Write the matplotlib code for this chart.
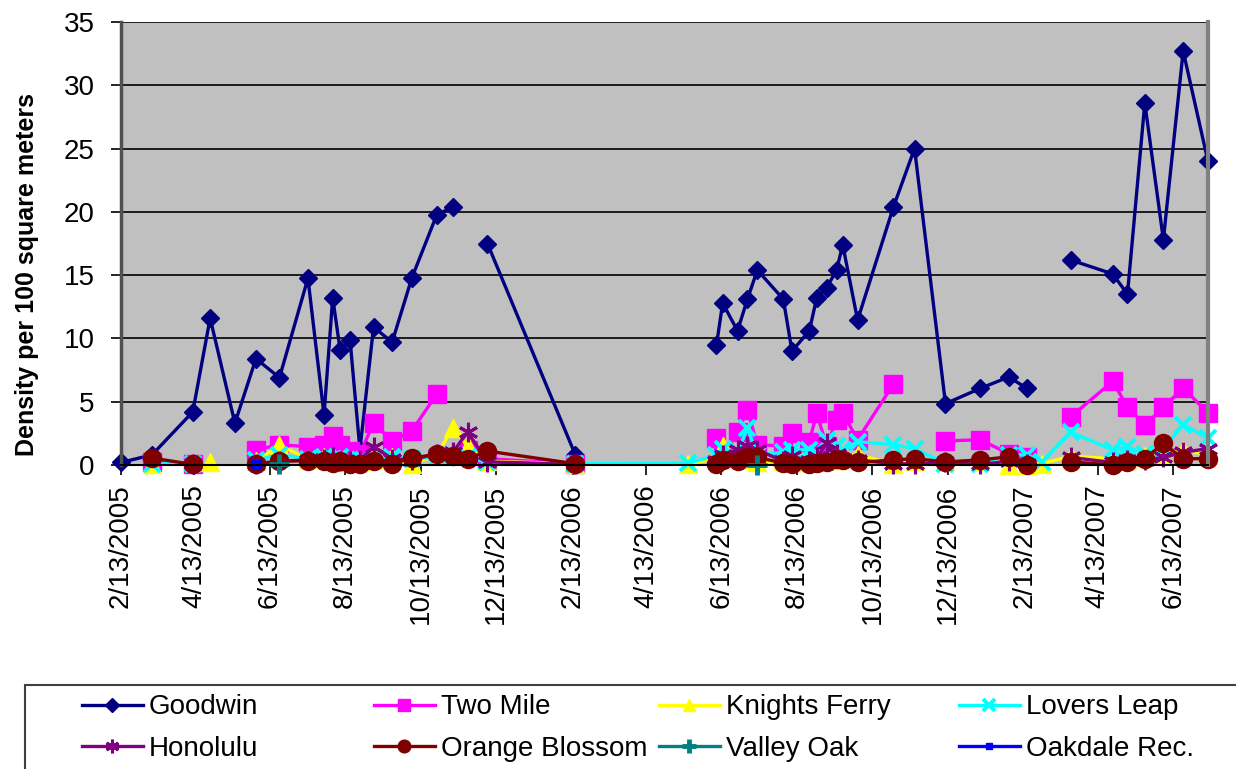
import numpy as np
import matplotlib
matplotlib.use("Agg")
import matplotlib.pyplot as plt
import matplotlib.dates as mdates
from matplotlib.patches import Rectangle

plt.rcParams['font.family'] = ['Liberation Sans', 'DejaVu Sans']

nan = np.nan

# sampling dates (shared by all sites, missing values = nan)
dates = [
    "2005-02-13", "2005-03-10", "2005-04-12", "2005-04-26", "2005-05-16",
    "2005-06-02", "2005-06-21", "2005-07-14", "2005-07-27", "2005-08-03",
    "2005-08-09", "2005-08-17", "2005-08-25", "2005-09-05", "2005-09-20",
    "2005-10-06", "2005-10-26", "2005-11-08", "2005-11-20", "2005-12-06",
    "2006-02-15", "2006-05-17", "2006-06-09", "2006-06-14", "2006-06-26",
    "2006-07-04", "2006-07-12", "2006-08-02", "2006-08-09", "2006-08-23",
    "2006-08-29", "2006-09-06", "2006-09-14", "2006-09-19", "2006-10-01",
    "2006-10-30", "2006-11-16", "2006-12-11",
    "2007-01-08", "2007-01-31", "2007-02-15", "2007-02-27", "2007-03-22",
    "2007-04-25", "2007-05-07", "2007-05-21", "2007-06-05", "2007-06-21",
    "2007-07-11",
]

goodwin = [0.2, 0.8, 4.2, 11.6, 3.3, 8.4, 6.9, 14.75, 3.95, 13.2,
           9.1, 9.9, 1.2, 10.9, 9.7, 14.8, 19.75, 20.4, nan, 17.5,
           0.8, nan, 9.45, 12.8, 10.6, 13.1, 15.4, 13.1, 9.0, 10.6,
           13.2, 14.0, 15.4, 17.4, 11.45, 20.4, 25.0, 4.85,
           6.05, 6.95, 6.05, nan, 16.2, 15.1, 13.5, 28.6, 17.8, 32.7, 24.0]

two_mile = [nan, 0.2, 0.1, nan, nan, 1.2, 1.6, 1.45, 1.6, 2.3,
            1.6, 1.1, 0.9, 3.3, 1.9, 2.7, 5.6, nan, 1.2, 0.5,
            0.1, nan, 2.1, 1.0, 2.6, 4.35, 1.6, 1.5, 2.5, 1.85,
            4.1, 1.5, 3.55, 4.1, 2.0, 6.4, nan, 1.9,
            2.0, 0.9, 0.65, nan, 3.8, 6.6, 4.6, 3.15, 4.55, 6.1, 4.1]

knights_ferry = [nan, 0.1, nan, 0.25, nan, 0.3, 1.55, 0.5, 0.6, 0.4,
                 0.3, 0.2, 0.3, 0.5, 0.6, 0.05, 0.8, 2.9, 1.5, 0.3,
                 0.1, 0.1, 0.5, 1.5, 0.8, 0.5, 0.2, 0.3, 0.3, 0.2,
                 0.3, 0.5, 0.4, 0.8, 0.8, 0.1, 0.3, 0.3,
                 0.3, 0.0, 0.0, 0.1, 0.7, 0.5, 0.4, 0.7, 0.8, 1.2, 0.8]

lovers_leap = [nan, 0.1, 0.1, nan, nan, 0.4, 0.8, 0.5, 0.6, 0.5,
               0.6, 0.4, 0.4, 0.5, 0.6, 0.5, 0.6, 0.8, 0.6, 0.2,
               0.1, 0.13, 0.8, 1.3, 1.0, 2.9, 0.8, 1.0, 1.2, 1.2,
               0.9, 2.0, 1.5, 1.2, 1.85, 1.6, 1.3, 0.1,
               0.1, 0.8, 0.8, 0.26, 2.6, 1.2, 1.4, 0.9, 1.3, 3.2, 2.1]

honolulu = [nan, nan, 0.1, nan, nan, 0.1, 0.3, 0.4, 0.5, 0.6,
            0.3, 0.3, 0.4, 1.45, 0.5, 0.4, 0.9, 1.0, 2.6, 0.25,
            0.05, nan, 0.3, 0.8, 1.2, 1.5, 1.2, 0.3, 0.7, 0.3,
            0.6, 1.7, 0.9, 0.5, 0.4, 0.1, 0.1, 0.2,
            0.05, 0.3, 0.1, nan, 0.6, 0.2, 0.4, 0.4, 0.6, 1.0, 1.3]

orange_blossom = [nan, 0.55, 0.05, nan, nan, 0.05, 0.3, 0.35, 0.3, 0.15,
                  0.3, 0.05, 0.1, 0.3, 0.1, 0.55, 0.85, 0.75, 0.5, 1.1,
                  0.1, nan, 0.1, 0.4, 0.3, 0.6, 0.6, 0.15, 0.1, 0.1,
                  0.15, 0.2, 0.45, 0.4, 0.2, 0.4, 0.5, 0.25,
                  0.4, 0.65, 0.0, nan, 0.25, 0.0, 0.25, 0.5, 1.7, 0.5, 0.5]

valley_oak = [nan, nan, nan, nan, nan, nan, 0.05, nan, nan, nan,
              nan, nan, nan, nan, nan, nan, nan, nan, nan, nan,
              nan, nan, nan, nan, nan, nan, 0.0, nan, nan, nan,
              nan, nan, nan, nan, nan, nan, nan, nan,
              nan, nan, nan, nan, nan, nan, nan, nan, nan, nan, nan]

oakdale_rec = [nan, nan, nan, nan, nan, 0.1, nan, nan, nan, nan,
               nan, nan, nan, nan, nan, nan, nan, nan, nan, nan,
               nan, nan, nan, nan, nan, nan, nan, nan, nan, nan,
               nan, nan, nan, nan, nan, nan, nan, nan,
               nan, nan, nan, nan, nan, nan, nan, nan, nan, nan, nan]

tick_dates = ["2005-02-13", "2005-04-13", "2005-06-13", "2005-08-13", "2005-10-13",
              "2005-12-13", "2006-02-13", "2006-04-13", "2006-06-13", "2006-08-13",
              "2006-10-13", "2006-12-13", "2007-02-13", "2007-04-13", "2007-06-13"]
tick_labels = ["2/13/2005", "4/13/2005", "6/13/2005", "8/13/2005", "10/13/2005",
               "12/13/2005", "2/13/2006", "4/13/2006", "6/13/2006", "8/13/2006",
               "10/13/2006", "12/13/2006", "2/13/2007", "4/13/2007", "6/13/2007"]

x = mdates.datestr2num(dates)

fig = plt.figure(figsize=(12.36, 7.69), dpi=100)
ax = fig.add_axes([0.0979, 0.3953, 0.8794, 0.5761])
ax.set_facecolor('#C0C0C0')

# name, values, color, marker, size, edge width, filled
styles = [
    ("Goodwin", goodwin, '#000080', 'D', 9.5, 1, True),
    ("Two Mile", two_mile, '#FF00FF', 's', 12.5, 1, True),
    ("Knights Ferry", knights_ferry, '#FFFF00', '^', 13, 1, True),
    ("Lovers Leap", lovers_leap, '#00FFFF', 'x', 12, 2.8, False),
    ("Honolulu", honolulu, '#800080', (6, 2, 0), 14, 2.2, False),
    ("Orange Blossom", orange_blossom, '#800000', 'o', 13, 1, True),
    ("Valley Oak", valley_oak, '#008080', '+', 15, 3.5, False),
    ("Oakdale Rec.", oakdale_rec, '#0000FF', 's', 7, 1, True),
]

handles = {}
for name, vals, col, mk, ms, mew, filled in styles:
    ln, = ax.plot(x, vals, color=col, lw=2.4, marker=mk, ms=ms, mew=mew,
                  mec=col, mfc=col if filled else 'none', clip_on=False,
                  label=name)
    handles[name] = ln

ax.set_ylim(0, 35)
ax.set_yticks(np.arange(0, 36, 5))
ax.set_xlim(x[0], x[-1])
ax.set_xticks(mdates.datestr2num(tick_dates))
ax.set_xticklabels(tick_labels, rotation=90)
ax.tick_params(axis='both', labelsize=20, length=7, width=1.2, direction='out', color='black')
ax.tick_params(axis='x', pad=7)
ax.tick_params(axis='y', pad=12)

ax.grid(axis='y', color='black', lw=1.2)
ax.set_axisbelow(True)
ax.spines['top'].set_visible(False)
ax.spines['left'].set_color('#505050')
ax.spines['left'].set_linewidth(2.5)
ax.spines['right'].set_color('#808080')
ax.spines['right'].set_linewidth(3)
ax.spines['bottom'].set_color('black')
ax.spines['bottom'].set_linewidth(1.5)

ax.set_ylabel('Density per 100 square meters', fontsize=18, fontweight='bold')
ax.yaxis.set_label_coords(-0.075, 0.43)

# legend box (runs off the bottom/right of the image like the original)
fig.add_artist(Rectangle((25 / 1236, -0.05), 1.1, 0.05 + 1 - 685 / 769,
                         transform=fig.transFigure, facecolor='white',
                         edgecolor='#404040', lw=1.5, zorder=1))

columns = [["Goodwin", "Honolulu"], ["Two Mile", "Orange Blossom"],
           ["Knights Ferry", "Valley Oak"], ["Lovers Leap", "Oakdale Rec."]]
col_x = [68, 360, 645, 945]
for names, cx in zip(columns, col_x):
    leg = fig.legend([handles[n] for n in names], names, loc='center left',
                     bbox_to_anchor=(cx / 1236, 1 - 728 / 769), frameon=False,
                     fontsize=20, borderpad=0, handlelength=2.2,
                     handletextpad=0.2, labelspacing=0.55, markerscale=0.7)
    leg.set_zorder(5)

fig.savefig('out.png', dpi=100)
